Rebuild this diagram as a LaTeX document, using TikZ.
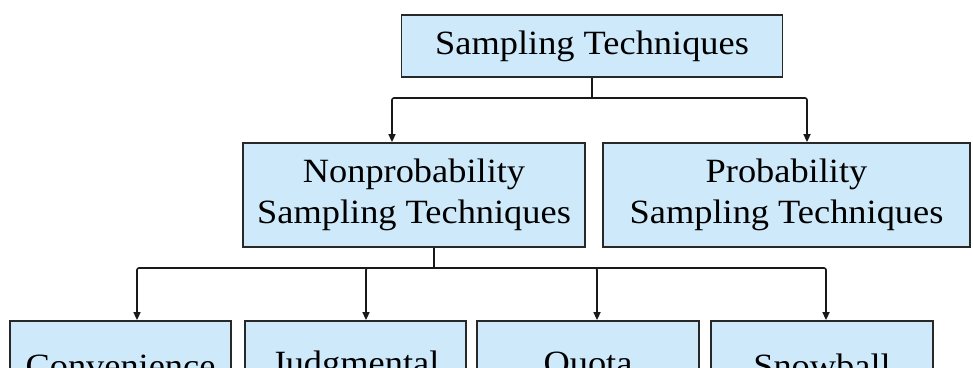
\documentclass[tikz,border=0pt]{standalone}
\usepackage{fontspec}
\setmainfont[FakeStretch=1.07]{Liberation Serif}
\usepackage{xcolor}
\usepackage{tikz}
\usetikzlibrary{positioning,arrows.meta}

\definecolor{boxfill}{RGB}{206,234,250}
\definecolor{boxline}{RGB}{40,40,40}

\begin{document}
\begin{tikzpicture}[x=1pt, y=1pt, font=\fontsize{34}{41}\selectfont,
		box/.style={draw=boxline, line width=1.8pt, fill=boxfill, align=center, inner sep=0pt},
		link/.style={draw=black!90, line width=1.6pt, rounded corners=2pt},
		arr/.style={-{Triangle[length=8pt, width=7pt]}}]
		\clip (0,0) rectangle (973,367);
		\node[box, minimum width=381pt, minimum height=62pt] (top) at (592,321) {Sampling Techniques};
		\node[box, minimum width=342pt, minimum height=104pt] (nonprob) at (414,172) {Nonprobability\\Sampling Techniques};
		\node[box, minimum width=367pt, minimum height=104pt] (prob) at (786.5,172) {Probability\\Sampling Techniques};
		% lowest row, cut by the page edge
		\node[box, minimum width=221pt, minimum height=90pt] (conv) at (120.5,1) {Convenience};
		\node[box, minimum width=221pt, minimum height=90pt] (judg) at (355.5,1) {Judgmental};
		\node[box, minimum width=222pt, minimum height=90pt] (quota) at (588,1) {Quota};
		\node[box, minimum width=222pt, minimum height=90pt] (snow) at (822,1) {Snowball};
		% branching lines
		\coordinate (bar1) at (592,269);
		\coordinate (bar2) at (434,99);
		\draw[link] (top) -- (bar1);
		\draw[link, arr] (bar1) -| ([xshift=-22pt]nonprob.north);
		\draw[link, arr] (bar1) -| ([xshift=20.5pt]prob.north);
		\draw[link] ([xshift=20pt]nonprob.south) -- (bar2);
		\draw[link, arr] (bar2) -| ([xshift=16.5pt]conv.north);
		\draw[link, arr] (bar2) -| ([xshift=10.5pt]judg.north);
		\draw[link, arr] (bar2) -| ([xshift=9pt]quota.north);
		\draw[link, arr] (bar2) -| ([xshift=4pt]snow.north);
	\end{tikzpicture}
\end{document}
